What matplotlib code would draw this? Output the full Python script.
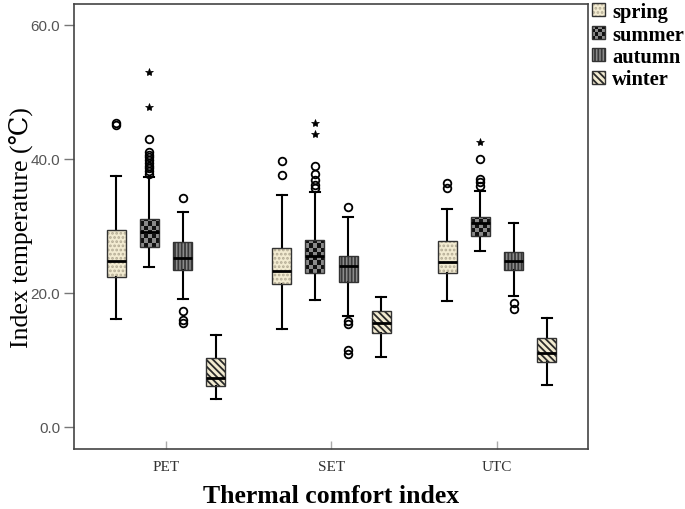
import matplotlib
matplotlib.use('Agg')
import matplotlib.pyplot as plt
import numpy as np
from matplotlib.patches import Rectangle, PathPatch, Patch
from matplotlib.legend_handler import HandlerBase
from matplotlib.colors import ListedColormap

# ---------------- data ----------------
indices = ['PET', 'SET', 'UTC']
seasons = ['spring', 'summer', 'autumn', 'winter']
yticks = [0, 20, 40, 60]

# values per season, ordered as [PET, SET, UTC]
whisker_low = {'spring': [16.1, 14.6, 18.8], 'summer': [23.9, 19.0, 26.3],
               'autumn': [19.1, 16.6, 19.6], 'winter': [4.2, 10.4, 6.3]}
q1 = {'spring': [22.4, 21.3, 23.0], 'summer': [26.9, 23.0, 28.5],
      'autumn': [23.4, 21.6, 23.4], 'winter': [6.1, 14.0, 9.7]}
median = {'spring': [24.8, 23.3, 24.6], 'summer': [29.1, 25.5, 30.4],
          'autumn': [25.2, 24.0, 24.8], 'winter': [7.3, 15.5, 11.0]}
q3 = {'spring': [29.4, 26.7, 27.8], 'summer': [31.0, 27.9, 31.3],
      'autumn': [27.6, 25.5, 26.1], 'winter': [10.3, 17.3, 13.3]}
whisker_high = {'spring': [37.5, 34.6, 32.5], 'summer': [37.3, 35.0, 35.2],
                'autumn': [32.1, 31.3, 30.4], 'winter': [13.7, 19.4, 16.3]}

# outliers (circles) and extremes (asterisks), ordered as [PET, SET, UTC]
outliers = {
    'spring': [[45.0, 45.3], [39.7, 37.6], [36.4, 35.6]],
    'summer': [[43.0, 41.0, 40.6, 40.2, 39.8, 39.4, 39.0, 38.6, 38.2, 37.8],
               [38.9, 37.8, 36.8, 36.1, 35.6],
               [39.9, 37.0, 36.5, 36.0]],
    'autumn': [[34.2, 17.3, 15.9, 15.5], [32.8, 15.8, 15.3, 11.5, 10.9], [18.5, 17.6]],
    'winter': [[], [], []],
}
extremes = {
    'spring': [[], [], []],
    'summer': [[53.0, 47.8], [45.4, 43.7], [42.5]],
    'autumn': [[], [], []],
    'winter': [[], [], []],
}

# ---------------- style ----------------
styles = {
    'spring': dict(face='#f2ebd1', hatch='....', hcolor='#b3ab94'),
    'summer': dict(face='#8a8a8a', checker=True),
    'autumn': dict(face='#8c8c8c', hatch='|||||', hcolor='#3a3a3a'),
    'winter': dict(face='#f2ebd1', hatch='\\\\\\\\\\', hcolor='#2a2a2a'),
}
offsets = [-0.3, -0.1, 0.1, 0.3]
box_w = 0.115
serif = ['Liberation Serif', 'DejaVu Serif']
plt.rcParams['hatch.linewidth'] = 1.3

fig = plt.figure(figsize=(6.85, 5.10), dpi=100)
ax = fig.add_axes([74 / 685, 60 / 510, 514 / 685, 445 / 510])
ax.set_xlim(-0.556, 2.55)
ax.set_ylim(-3.3, 63.1)

checker_cmap = ListedColormap(['#8a8a8a', '#111111'])
base = np.arange(len(indices))

for si, s in enumerate(seasons):
    st = styles[s]
    pos = base + offsets[si]
    stats = []
    for k in range(len(indices)):
        stats.append(dict(whislo=whisker_low[s][k], q1=q1[s][k], med=median[s][k],
                          q3=q3[s][k], whishi=whisker_high[s][k], fliers=[]))
    bp = ax.bxp(stats, positions=pos, widths=box_w, patch_artist=True,
                showfliers=False, manage_ticks=False, capwidths=0.06,
                boxprops=dict(facecolor=st['face'], edgecolor='none', linewidth=0, zorder=2),
                medianprops=dict(color='black', linewidth=2.0, zorder=6),
                whiskerprops=dict(color='black', linewidth=1.5),
                capprops=dict(color='black', linewidth=1.5))
    for bx in bp['boxes']:
        path = bx.get_path()
        if st.get('checker'):
            ext = path.get_extents()
            cell_h = 0.62
            nrows = int(np.ceil((ext.y1 - ext.y0) / cell_h))
            ncols = 5
            arr = (np.add.outer(np.arange(nrows), np.arange(ncols)) % 2)
            im = ax.imshow(arr, cmap=checker_cmap, origin='lower', aspect='auto',
                           interpolation='nearest',
                           extent=(ext.x0, ext.x1, ext.y0, ext.y0 + nrows * cell_h),
                           zorder=2.5)
            im.set_clip_path(bx)
        else:
            hp = PathPatch(path, facecolor='none', edgecolor=st['hcolor'],
                           hatch=st['hatch'], linewidth=0, zorder=2.5)
            ax.add_patch(hp)
        ep = PathPatch(path, facecolor='none', edgecolor='#333333', linewidth=1.0, zorder=3)
        ax.add_patch(ep)
    for k in range(len(indices)):
        o = outliers[s][k]
        if o:
            ax.plot(np.full(len(o), pos[k]), o, 'o', mfc='none', mec='black',
                    ms=5.5, mew=1.3, zorder=4)
        e = extremes[s][k]
        if e:
            ax.plot(np.full(len(e), pos[k]), e, '*', color='black', ms=6, mew=0.5, zorder=4)

ax.set_xlim(-0.556, 2.55)
ax.set_ylim(-3.3, 63.1)

ax.set_xticks(base)
ax.set_xticklabels(indices, family=serif, fontsize=11, color='#333333')
ax.set_yticks(yticks)
ax.set_yticklabels(['%.1f' % v for v in yticks], family=['Liberation Sans', 'DejaVu Sans'],
                   fontsize=11, color='#555555')
ax.tick_params(axis='y', direction='out', length=7, color='#777777', width=1, pad=3)
ax.tick_params(axis='x', direction='in', length=6, color='#aaaaaa', width=1, pad=8)
for sp in ax.spines.values():
    sp.set_color('#444444')
    sp.set_linewidth(1.2)

ax.set_ylabel('Index temperature (\u2103)', family=serif, fontsize=18.5)
ax.yaxis.set_label_coords(-0.079, 0.5)
ax.set_xlabel('Thermal comfort index', family=serif, fontsize=18.5, fontweight='bold',
              labelpad=8)


class SeasonHandler(HandlerBase):
    def __init__(self, style):
        super().__init__()
        self.style = style

    def create_artists(self, legend, orig_handle, xdescent, ydescent, width, height,
                       fontsize, trans):
        st = self.style
        x0, y0 = -xdescent, -ydescent
        arts = [Rectangle((x0, y0), width, height, facecolor=st['face'], edgecolor='none',
                          transform=trans)]
        if st.get('checker'):
            n = 4
            cw, ch = width / n, height / n
            for i in range(n):
                for j in range(n):
                    if (i + j) % 2 == 0:
                        arts.append(Rectangle((x0 + i * cw, y0 + j * ch), cw, ch,
                                              facecolor='#111111', edgecolor='none',
                                              transform=trans))
        else:
            arts.append(Rectangle((x0, y0), width, height, facecolor='none',
                                  edgecolor=st['hcolor'], hatch=st['hatch'], linewidth=0,
                                  transform=trans))
        arts.append(Rectangle((x0, y0), width, height, facecolor='none',
                              edgecolor='#333333', linewidth=1.0, transform=trans))
        return arts


handles = [Patch(label=s) for s in seasons]
hmap = {h: SeasonHandler(styles[s]) for h, s in zip(handles, seasons)}
fig.legend(handles=handles, labels=seasons, handler_map=hmap, loc='upper left',
           bbox_to_anchor=(590 / 685, 1 - 1 / 510), frameon=False,
           handlelength=0.62, handleheight=0.62, handletextpad=0.35, labelspacing=0.12,
           borderaxespad=0, borderpad=0.1,
           prop=dict(family=serif, weight='bold', size=14.8))

fig.savefig('out.png', dpi=100)
